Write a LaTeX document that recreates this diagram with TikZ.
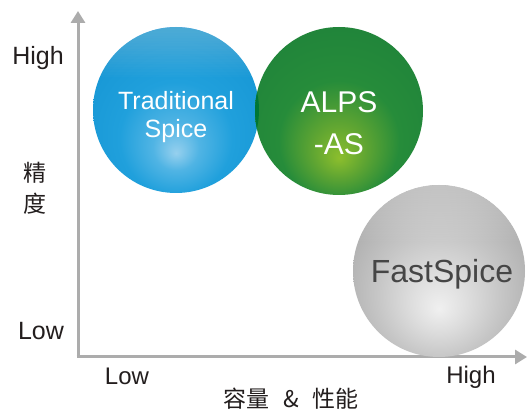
\documentclass[tikz,border=0pt]{standalone}
\usepackage{fontspec}
\setmainfont{Liberation Sans}
\newfontfamily\cjk{Noto Sans CJK SC}
\usetikzlibrary{arrows.meta}
\definecolor{axisgray}{RGB}{172,172,172}
\definecolor{txtgray}{RGB}{35,30,30}
\definecolor{ballgraytxt}{RGB}{70,70,70}
\definecolor{bluelight}{RGB}{150,208,238}
\definecolor{bluemid}{RGB}{80,180,228}
\definecolor{bluedark}{RGB}{32,160,220}
\definecolor{blueedge}{RGB}{22,150,212}
\definecolor{greenlight}{RGB}{140,190,45}
\definecolor{greenmid}{RGB}{95,165,50}
\definecolor{greendark}{RGB}{38,140,58}
\definecolor{greenedge}{RGB}{32,132,58}
\definecolor{overlapgreen}{RGB}{0,118,52}
\definecolor{graylight}{RGB}{240,240,240}
\definecolor{graymid}{RGB}{222,222,222}
\definecolor{graydark}{RGB}{198,198,198}
\definecolor{grayedge}{RGB}{172,172,172}
\pgfdeclareradialshading{blueball}{\pgfpoint{0bp}{-13bp}}{color(0bp)=(bluelight); color(7bp)=(bluemid); color(17bp)=(bluedark); color(32bp)=(blueedge); color(50bp)=(blueedge)}
\pgfdeclareradialshading{greenball}{\pgfpoint{0bp}{-14bp}}{color(0bp)=(greenlight); color(8bp)=(greenmid); color(18bp)=(greendark); color(32bp)=(greenedge); color(50bp)=(greenedge)}
\pgfdeclareradialshading{grayball}{\pgfpoint{0bp}{-11bp}}{color(0bp)=(graylight); color(8bp)=(graymid); color(18bp)=(graydark); color(30bp)=(grayedge); color(50bp)=(grayedge)}
\tikzset{
  x=1pt, y=-1pt,
  axis/.style={draw=axisgray, line width=3pt, -{Triangle[width=14pt,length=12pt]}},
  ballnode/.style={circle, inner sep=0pt},
  balltxt/.style={text=white, align=center, anchor=base},
  lbl/.style={text=txtgray, font=\fontsize{25}{30}\selectfont, anchor=base},
  cjklbl/.style={text=txtgray, font=\cjk\fontsize{23}{28}\selectfont},
  gloss/.style={white, fill opacity=0.016}
}
\begin{document}
\begin{tikzpicture}
\useasboundingbox (0,0) rectangle (528,411);
\fill[white] (0,0) rectangle (528,411);
% axes
\coordinate (O) at (78,357);
\coordinate (ytop) at (78,11);
\coordinate (xend) at (527,357);
\draw[axis] (O) -- (ytop);
\draw[axis] ([xshift=-1.5pt]O) -- (xend);
% balls
\node[ballnode, minimum size=166pt, shading=blueball] (trad) at (176,110) {};
\node[ballnode, minimum size=168pt, shading=greenball] (alps) at (339,111) {};
\begin{scope}
  \clip (trad.center) circle (83);
  \fill[overlapgreen] (alps.center) circle (84);
\end{scope}
\node[ballnode, minimum size=172pt, shading=grayball] (fast) at (439,271) {};
% gloss highlights
\begin{scope}
  \clip (trad.center) circle (83);
  \foreach \k in {1,...,22}
    \fill[gloss] ([xshift=-90pt,yshift=90pt]trad.center) rectangle ([xshift=90pt,yshift=90pt-2.6*\k pt]trad.center);
\end{scope}
\begin{scope}
  \clip (fast.center) circle (86);
  \foreach \k in {1,...,24}
    \fill[gloss, fill opacity=0.02] ([xshift=-92pt,yshift=92pt]fast.center) rectangle ([xshift=92pt,yshift=92pt-2.6*\k pt]fast.center);
\end{scope}
% ball texts
\node[balltxt, font=\fontsize{25}{30}\selectfont] (tradtxt1) at (176,110) {Traditional};
\node[balltxt, font=\fontsize{25}{30}\selectfont] (tradtxt2) at (176,138) {Spice};
\node[balltxt, font=\fontsize{30}{36}\selectfont] (alpstxt1) at (339,113) {ALPS};
\node[balltxt, font=\fontsize{30}{36}\selectfont] (alpstxt2) at (339,155) {-AS};
\node[balltxt, text=ballgraytxt, font=\fontsize{32}{38}\selectfont] (fasttxt) at (442,283) {FastSpice};
% labels
\node[lbl] (yhigh) at (38,65) {High};
\node[lbl] (ylow) at (41,340) {Low};
\node[cjklbl] (ytitle1) at (35,173) {精};
\node[cjklbl] (ytitle2) at (35,204) {度};
\node[lbl, font=\fontsize{24}{28}\selectfont] (xlow) at (127,385) {Low};
\node[lbl, font=\fontsize{24}{28}\selectfont] (xhigh) at (471,384) {High};
\node[cjklbl] (xtitle) at (291,399) {容量\hspace{0.6em}\&\hspace{0.6em}性能};
\end{tikzpicture}
\end{document}
